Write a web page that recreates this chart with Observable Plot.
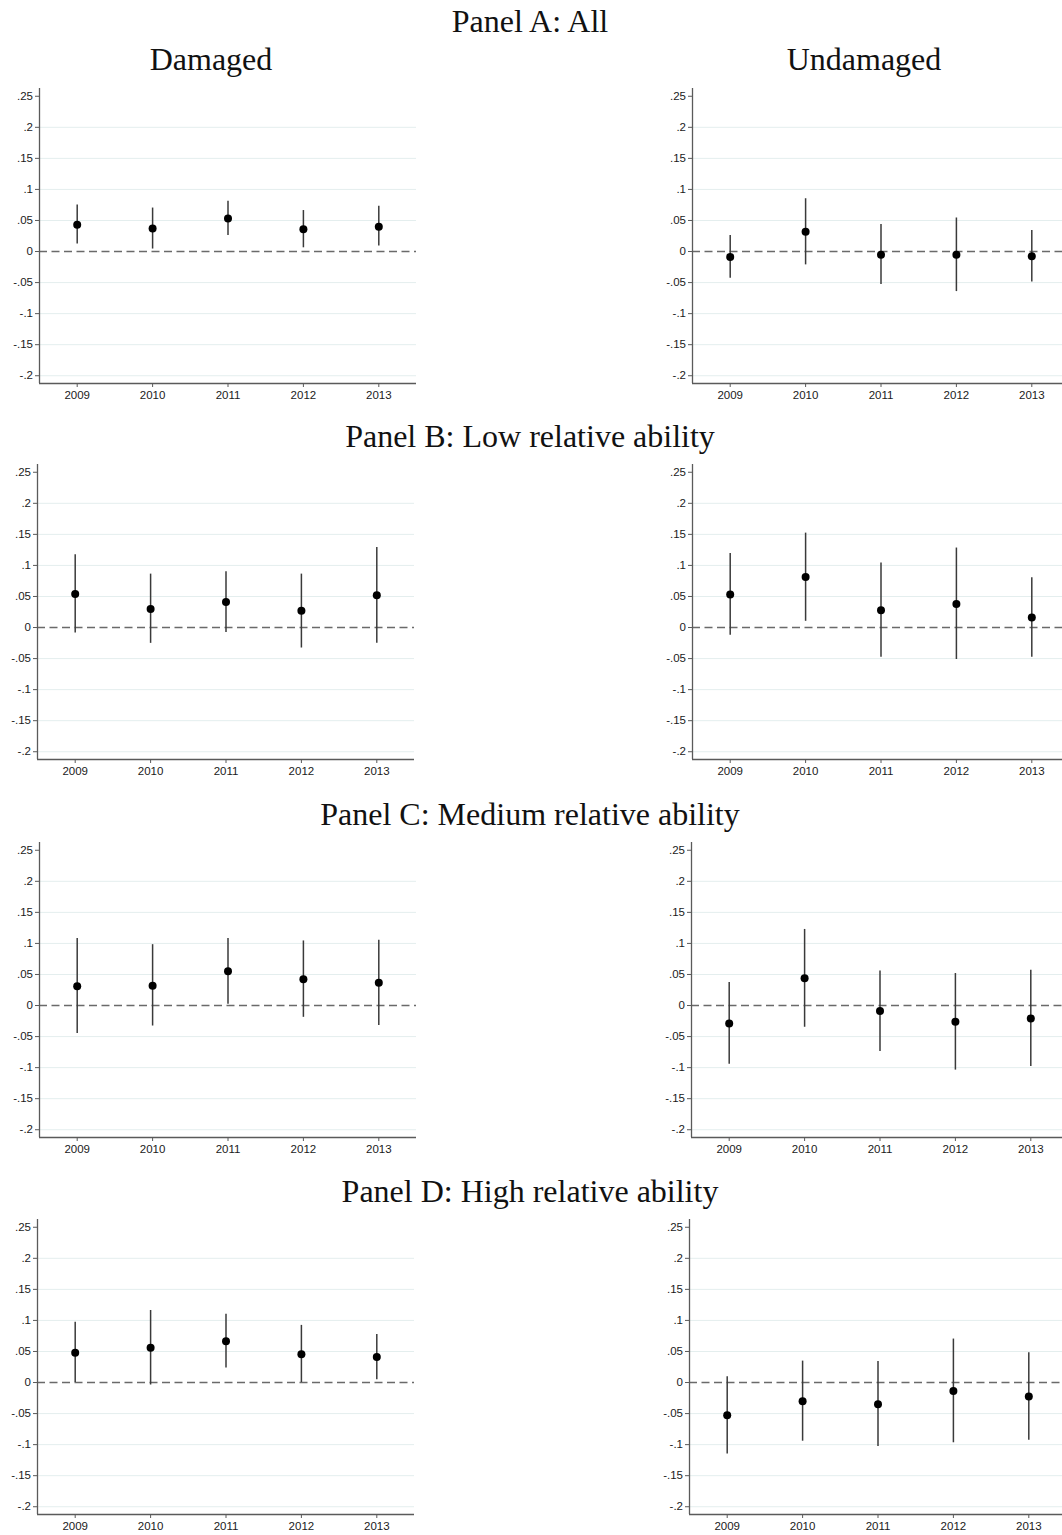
<!DOCTYPE html>
<html>
<head>
<meta charset="utf-8">
<script src="https://cdn.jsdelivr.net/npm/d3@7"></script>
<script src="https://cdn.jsdelivr.net/npm/@observablehq/plot@0.6"></script>
<style>
  html, body { margin: 0; padding: 0; background: #fff; }
  #page { position: relative; width: 1062px; height: 1535px; overflow: hidden; background: #fff; }
  .title { position: absolute; font-family: "Liberation Serif", "Times New Roman", serif; font-size: 32px; line-height: 32px; color: #111; white-space: nowrap; transform: translateX(-50%); }
  .sub { position: absolute; }
  .sub svg { max-width: none !important; }
</style>
</head>
<body>
<div id="page"></div>
<script>
// ---- Data ----
const years = [2009, 2010, 2011, 2012, 2013];
const yTicks = [-0.2, -0.15, -0.1, -0.05, 0, 0.05, 0.1, 0.15, 0.2, 0.25];
const gridTicks = [-0.2, -0.15, -0.1, -0.05, 0.05, 0.1, 0.15, 0.2];
const yDomain = [-0.2125, 0.2625];

const panelTitles = ["Panel A: All", "Panel B: Low relative ability", "Panel C: Medium relative ability", "Panel D: High relative ability"];
const columnTitles = ["Damaged", "Undamaged"];

// Panel A
const A_dam_est = [0.043, 0.037, 0.053, 0.036, 0.040];
const A_dam_hi  = [0.075, 0.070, 0.081, 0.066, 0.073];
const A_dam_lo  = [0.012, 0.004, 0.026, 0.006, 0.009];
const A_und_est = [-0.009, 0.032, -0.005, -0.005, -0.0075];
const A_und_hi  = [0.026, 0.085, 0.0435, 0.054, 0.034];
const A_und_lo  = [-0.043, -0.0215, -0.053, -0.0645, -0.049];
// Panel B
const B_dam_est = [0.054, 0.030, 0.041, 0.027, 0.052];
const B_dam_hi  = [0.117, 0.086, 0.090, 0.086, 0.129];
const B_dam_lo  = [-0.009, -0.0255, -0.008, -0.033, -0.0255];
const B_und_est = [0.053, 0.0815, 0.028, 0.038, 0.016];
const B_und_hi  = [0.119, 0.152, 0.104, 0.128, 0.080];
const B_und_lo  = [-0.0125, 0.010, -0.048, -0.0515, -0.048];
// Panel C
const C_dam_est = [0.031, 0.032, 0.055, 0.0425, 0.0365];
const C_dam_hi  = [0.108, 0.098, 0.108, 0.104, 0.105];
const C_dam_lo  = [-0.045, -0.033, 0.002, -0.019, -0.032];
const C_und_est = [-0.029, 0.044, -0.009, -0.026, -0.021];
const C_und_hi  = [0.037, 0.1225, 0.0555, 0.0515, 0.057];
const C_und_lo  = [-0.0945, -0.035, -0.074, -0.104, -0.098];
// Panel D
const D_dam_est = [0.048, 0.056, 0.0665, 0.0455, 0.041];
const D_dam_hi  = [0.097, 0.116, 0.110, 0.092, 0.0775];
const D_dam_lo  = [0.0, -0.004, 0.0235, 0.0, 0.0045];
const D_und_est = [-0.0525, -0.030, -0.035, -0.0135, -0.0225];
const D_und_hi  = [0.0095, 0.0345, 0.034, 0.070, 0.048];
const D_und_lo  = [-0.115, -0.0945, -0.103, -0.097, -0.093];

const series = [
  [[A_dam_est, A_dam_lo, A_dam_hi], [A_und_est, A_und_lo, A_und_hi]],
  [[B_dam_est, B_dam_lo, B_dam_hi], [B_und_est, B_und_lo, B_und_hi]],
  [[C_dam_est, C_dam_lo, C_dam_hi], [C_und_est, C_und_lo, C_und_hi]],
  [[D_dam_est, D_dam_lo, D_dam_hi], [D_und_est, D_und_lo, D_und_hi]]
];

// ---- Layout ----
const frameLeft = [[39.3, 691.7], [37.3, 692.3], [39.3, 690.7], [37.3, 689.3]];
const zeroY = [250.7, 627.3, 1004.7, 1381.7];
const panelTitleTop = [4.5, 419.5, 797.5, 1174.5];
const columnTitleTop = 42.5;
const columnTitleX = [211, 864];

const mL = 40, mR = 4, mT = 8, mB = 25;
const plotW = 377, plotH = 295;
const pxPerUnit = plotH / (yDomain[1] - yDomain[0]);

const fmtY = d => d === 0 ? "0" : String(+d.toFixed(2)).replace("0.", ".");
const page = document.getElementById("page");

function addTitle(text, cx, top) {
  const div = document.createElement("div");
  div.className = "title";
  div.textContent = text;
  div.style.left = cx + "px";
  div.style.top = top + "px";
  page.appendChild(div);
}

function makePlot(arrs) {
  const [est, lo, hi] = arrs;
  const data = years.map((y, i) => ({year: y, est: est[i], lo: lo[i], hi: hi[i]}));
  return Plot.plot({
    width: mL + plotW + mR,
    height: mT + plotH + mB,
    marginLeft: mL, marginRight: mR, marginTop: mT, marginBottom: mB,
    style: {fontFamily: "'Liberation Sans', Arial, sans-serif", fontSize: "11.5px", color: "#1a1a1a", background: "transparent", overflow: "visible", maxWidth: "none"},
    x: {type: "linear", domain: [years[0] - 0.5, years[years.length - 1] + 0.5]},
    y: {domain: yDomain},
    marks: [
      Plot.gridY(gridTicks, {stroke: "#e4eeee", strokeOpacity: 1, strokeWidth: 1}),
      Plot.ruleY([0], {stroke: "#6a6a6a", strokeWidth: 1.6, strokeDasharray: "8,4.5"}),
      Plot.ruleX(data, {x: "year", y1: "lo", y2: "hi", stroke: "#3a3a3a", strokeWidth: 1.5}),
      Plot.dot(data, {x: "year", y: "est", r: 4, fill: "#000", stroke: "none"}),
      Plot.ruleX([years[0] - 0.5], {stroke: "#5a5a5a", strokeWidth: 1.3}),
      Plot.ruleY([yDomain[0]], {stroke: "#5a5a5a", strokeWidth: 1.3}),
      Plot.axisY({ticks: yTicks, tickFormat: fmtY, tickSize: 4, tickPadding: 2.5, stroke: "#5a5a5a", label: null}),
      Plot.axisX({ticks: years, tickFormat: d => String(d), tickSize: 4, tickPadding: 3.5, stroke: "#5a5a5a", label: null})
    ]
  });
}

for (let p = 0; p < 4; p++) {
  addTitle(panelTitles[p], 530, panelTitleTop[p]);
  for (let c = 0; c < 2; c++) {
    const svg = makePlot(series[p][c]);
    svg.style.maxWidth = "none";
    const wrap = document.createElement("div");
    wrap.className = "sub";
    wrap.style.width = (mL + plotW + mR) + "px";
    wrap.style.left = (frameLeft[p][c] - mL) + "px";
    wrap.style.top = (zeroY[p] - yDomain[1] * pxPerUnit - mT) + "px";
    wrap.appendChild(svg);
    page.appendChild(wrap);
  }
}
addTitle(columnTitles[0], columnTitleX[0], columnTitleTop);
addTitle(columnTitles[1], columnTitleX[1], columnTitleTop);
</script>
</body>
</html>
